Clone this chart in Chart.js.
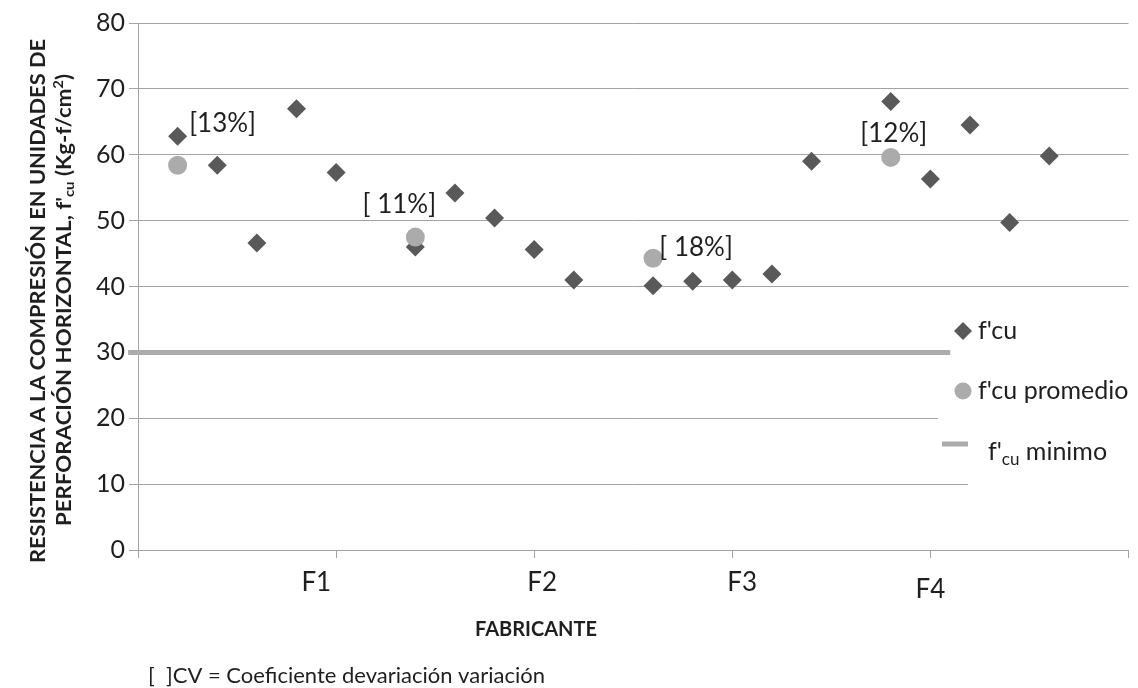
<!DOCTYPE html>
<html>
<head>
<meta charset="utf-8">
<script src="https://cdn.jsdelivr.net/npm/chart.js@4.4.0/dist/chart.umd.min.js"></script>
<style>
  html, body { margin: 0; background: #fff; }
</style>
</head>
<body>
<canvas id="chart" width="1138" height="688"></canvas>
<script>
// f'cu por probeta (x = posición dentro del fabricante)
const fcuX = [0.2, 0.4, 0.6, 0.8, 1.0, 1.4, 1.6, 1.8, 2.0, 2.2, 2.6, 2.8, 3.0, 3.2, 3.4, 3.8, 4.0, 4.2, 4.4, 4.6];
const fcuY = [62.8, 58.4, 46.6, 67.0, 57.3, 46.0, 54.2, 50.4, 45.6, 41.0, 40.1, 40.8, 41.0, 41.9, 59.0, 68.1, 56.3, 64.5, 49.7, 59.8];

// promedio por fabricante y su coeficiente de variación
const promX = [0.2, 1.4, 2.6, 3.8];
const promY = [58.4, 47.5, 44.3, 59.6];
const cvLabels = ['[13%]', '[ 11%]', '[ 18%]', '[12%]'];

// f'cu mínimo exigido
const minX = [-0.05, 4.1];
const minY = [30, 30];

const fabricantes = ['F1', 'F2', 'F3', 'F4'];

// dónde van los rótulos (no son datos)
const cvOffset = [[45, -42], [-16, -32], [43, -11], [3, -24]];
const fabAt = [[0.9, 583], [2.04, 583], [3.05, 583], [4.0, 590]];

const FONT = 'Lato, "Open Sans", sans-serif';
const INK = '#1f1f1f';
const DARK = '#595959';
const LIGHT = '#ABABAB';
const GRID = '#A3A3A3';

// dibuja trozos de texto seguidos (para subíndices / superíndices);
// si se da "fit", se estira o encoge en horizontal hasta ese ancho
function drawRuns(ctx, runs, x, y, center, fit) {
  let w = 0;
  runs.forEach(r => { ctx.font = r.font; w += ctx.measureText(r.t).width; });
  const sx = fit ? fit / w : 1;
  ctx.save();
  ctx.translate(center ? x - w * sx / 2 : x, y);
  ctx.scale(sx, 1);
  let cx = 0;
  runs.forEach(r => {
    ctx.font = r.font;
    ctx.fillText(r.t, cx, r.dy || 0);
    cx += ctx.measureText(r.t).width;
  });
  ctx.restore();
}

const decor = {
  id: 'decor',
  beforeDatasetsDraw(chart) {
    // la leyenda tapa parte de las líneas de división
    const ctx = chart.ctx;
    ctx.save();
    ctx.fillStyle = '#fff';
    ctx.fillRect(938, 296, 200, 134);
    ctx.fillRect(968, 430, 170, 70);
    ctx.restore();
  },
  afterDraw(chart) {
    const ctx = chart.ctx;
    const xs = chart.scales.x, ys = chart.scales.y;
    ctx.save();
    ctx.fillStyle = INK;
    ctx.textBaseline = 'middle';
    ctx.textAlign = 'left';

    // CV sobre cada promedio
    cvLabels.forEach((t, i) => {
      const px = xs.getPixelForValue(promX[i]) + cvOffset[i][0];
      const py = ys.getPixelForValue(promY[i]) + cvOffset[i][1];
      drawRuns(ctx, [{ t, font: '26px ' + FONT }], px, py, true);
    });

    // nombres de fabricante
    fabricantes.forEach((t, i) => {
      drawRuns(ctx, [{ t, font: '26px ' + FONT }], xs.getPixelForValue(fabAt[i][0]), fabAt[i][1], true);
    });

    drawRuns(ctx, [{ t: 'FABRICANTE', font: 'bold 20px ' + FONT }], 536, 630, true);
    drawRuns(ctx, [{ t: '[  ]CV = Coeficiente devariación variación', font: '22px ' + FONT }], 148, 676, false);

    // título del eje Y, girado
    ctx.save();
    ctx.translate(51, 301);
    ctx.rotate(-Math.PI / 2);
    const b = 'bold 21px ' + FONT, bs = 'bold 14px ' + FONT;
    drawRuns(ctx, [{ t: 'RESISTENCIA A LA COMPRESIÓN EN UNIDADES DE', font: b }], 0, -13, true, 524);
    drawRuns(ctx, [
      { t: "PERFORACIÓN HORIZONTAL, f'", font: b },
      { t: 'cu', font: bs, dy: 5 },
      { t: ' (Kg-f/cm', font: b },
      { t: '2', font: bs, dy: -6 },
      { t: ')', font: b }
    ], 1, 13, true, 452);
    ctx.restore();

    // leyenda
    ctx.fillStyle = DARK;
    ctx.beginPath();
    ctx.moveTo(954, 331); ctx.lineTo(963, 322); ctx.lineTo(972, 331); ctx.lineTo(963, 340);
    ctx.closePath(); ctx.fill();
    ctx.fillStyle = LIGHT;
    ctx.beginPath(); ctx.arc(963, 391, 8.5, 0, Math.PI * 2); ctx.fill();
    ctx.fillRect(942, 441.5, 26, 5);

    ctx.fillStyle = INK;
    const f = '25px ' + FONT, fs = '17px ' + FONT;
    drawRuns(ctx, [{ t: "f'cu", font: f }], 978, 331, false);
    drawRuns(ctx, [{ t: "f'cu promedio", font: f }], 978, 391, false);
    drawRuns(ctx, [
      { t: "f'", font: f },
      { t: 'cu', font: fs, dy: 8 },
      { t: ' minimo', font: f }
    ], 988, 452, false);
    ctx.restore();
  }
};

new Chart(document.getElementById('chart'), {
  type: 'scatter',
  data: {
    datasets: [
      {
        label: "f'cu promedio",
        data: promX.map((x, i) => ({ x, y: promY[i] })),
        pointStyle: 'circle',
        pointRadius: 9.5,
        backgroundColor: LIGHT,
        borderWidth: 0,
        order: 0
      },
      {
        label: "f'cu",
        data: fcuX.map((x, i) => ({ x, y: fcuY[i] })),
        pointStyle: 'rectRot',
        pointRadius: 9.5,
        backgroundColor: DARK,
        borderColor: DARK,
        borderWidth: 0,
        order: 1
      },
      {
        label: "f'cu minimo",
        type: 'line',
        data: minX.map((x, i) => ({ x, y: minY[i] })),
        showLine: true,
        borderColor: LIGHT,
        borderWidth: 5,
        pointRadius: 0,
        clip: false,
        order: 2
      }
    ]
  },
  options: {
    responsive: false,
    animation: false,
    devicePixelRatio: 1,
    layout: { padding: { top: 23, right: 6, left: 0, bottom: 0 } },
    plugins: { legend: { display: false }, tooltip: { enabled: false } },
    scales: {
      x: {
        type: 'linear',
        min: 0,
        max: 5,
        afterBuildTicks: s => { s.ticks = [0, 1, 2, 3, 4, 5].map(v => ({ value: v })); },
        afterFit: s => { s.height = 138; },
        ticks: { callback: () => '' },
        grid: { drawOnChartArea: false, drawTicks: true, tickLength: 8, color: GRID },
        border: { color: GRID, width: 1 }
      },
      y: {
        min: 0,
        max: 80,
        afterFit: s => { s.width = 138; },
        ticks: { stepSize: 10, padding: 4, color: INK, font: { family: FONT, size: 25 } },
        grid: { color: GRID, tickLength: 9, lineWidth: 1 },
        border: { color: GRID, width: 1 }
      }
    }
  },
  plugins: [decor]
});
</script>
</body>
</html>
